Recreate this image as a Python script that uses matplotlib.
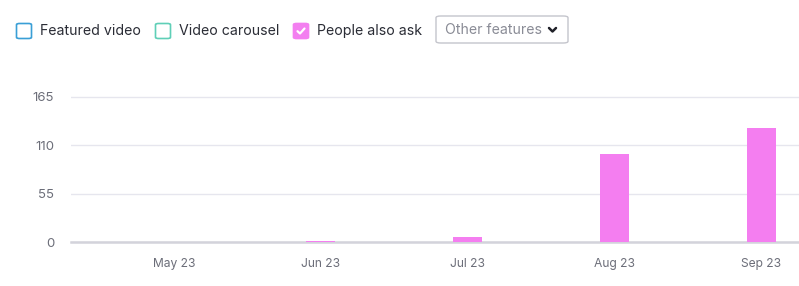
import matplotlib
matplotlib.use("Agg")
import matplotlib.pyplot as plt
from matplotlib.patches import FancyBboxPatch
from matplotlib.lines import Line2D

plt.rcParams['font.family'] = ['Inter', 'DejaVu Sans']

months = ["May 23", "Jun 23", "Jul 23", "Aug 23", "Sep 23"]
people_also_ask = [0, 2, 6, 100, 130]
yticks = [0, 55, 110, 165]
legend_items = ["Featured video", "Video carousel", "People also ask"]
legend_colors = ["#3a9fd6", "#5fcfb7", "#f37ff0"]
legend_checked = [False, False, True]
dropdown_label = "Other features"

W, H = 799, 286
fig = plt.figure(figsize=(W / 100, H / 100), dpi=100)

ax_left, ax_right = 71, 799
y0_px, y165_px = 242.3, 96.7
ymax = 170
top_px = y0_px - (y0_px - y165_px) * ymax / 165
ax = fig.add_axes([ax_left / W, 1 - y0_px / H, (ax_right - ax_left) / W, (y0_px - top_px) / H])

x = list(range(len(months)))
ax.bar(x, people_also_ask, width=0.2, color="#f47ef0", zorder=3)
ax.set_xlim(-0.7, 4.255)
ax.set_ylim(0, ymax)
ax.set_yticks(yticks)
ax.set_yticklabels([str(v) for v in yticks])
ax.set_xticks(x)
ax.set_xticklabels(months)
for s in ["top", "right", "left"]:
    ax.spines[s].set_visible(False)
ax.spines["bottom"].set_color("#d3d3db")
ax.spines["bottom"].set_linewidth(1.8)
ax.spines["bottom"].set_zorder(2.5)
ax.tick_params(axis="both", length=0, colors="#6c6e79")
ax.tick_params(axis="y", pad=12, labelsize=9.5)
ax.tick_params(axis="x", pad=11, labelsize=8.7)
for lbl in ax.get_yticklabels():
    lbl.set_horizontalalignment("right")
ax.yaxis.grid(True, color="#e6e6ee", linewidth=1, zorder=0)
ax.set_axisbelow(True)

def px2fig(px, py):
    return px / W, 1 - py / H

box_centers = [24, 163, 301]
text_x = [40, 179, 317]
cy = 31
for cxp, tx, label, col, chk in zip(box_centers, text_x, legend_items, legend_colors, legend_checked):
    bx, by = px2fig(cxp - 7.5, cy + 7.5)
    bw, bh = 15 / W, 15 / H
    patch = FancyBboxPatch((bx, by), bw, bh,
                           boxstyle="round,pad=0,rounding_size=0.004",
                           transform=fig.transFigure,
                           facecolor=col if chk else "white",
                           edgecolor=col, linewidth=1.2)
    fig.patches.append(patch)
    if chk:
        xs = [cxp - 3.5, cxp - 1, cxp + 3.5]
        ys = [cy + 0.2, cy + 2.5, cy - 2.5]
        fig.lines.append(Line2D([v / W for v in xs], [1 - v / H for v in ys],
                                transform=fig.transFigure, color="white", linewidth=1.6,
                                solid_capstyle="round", solid_joinstyle="round"))
    tx_f, ty_f = px2fig(tx, cy)
    fig.text(tx_f, ty_f, label, fontsize=10.2, color="#2b2d36", va="center", ha="left")

dx, dy = px2fig(436, 43)
dd = FancyBboxPatch((dx, dy), (568 - 436) / W, 27 / H,
                    boxstyle="round,pad=0,rounding_size=0.006",
                    transform=fig.transFigure, facecolor="white",
                    edgecolor="#c4c5cc", linewidth=1)
fig.patches.append(dd)
tx_f, ty_f = px2fig(445, 30)
fig.text(tx_f, ty_f, dropdown_label, fontsize=10.2, color="#8a8c96", va="center", ha="left")
chx = [549, 552.5, 556]
chy = [28, 31.5, 28]
fig.lines.append(Line2D([v / W for v in chx], [1 - v / H for v in chy],
                        transform=fig.transFigure, color="#1f2028", linewidth=1.8,
                        solid_capstyle="round", solid_joinstyle="round"))

fig.savefig("out.png", dpi=100)
